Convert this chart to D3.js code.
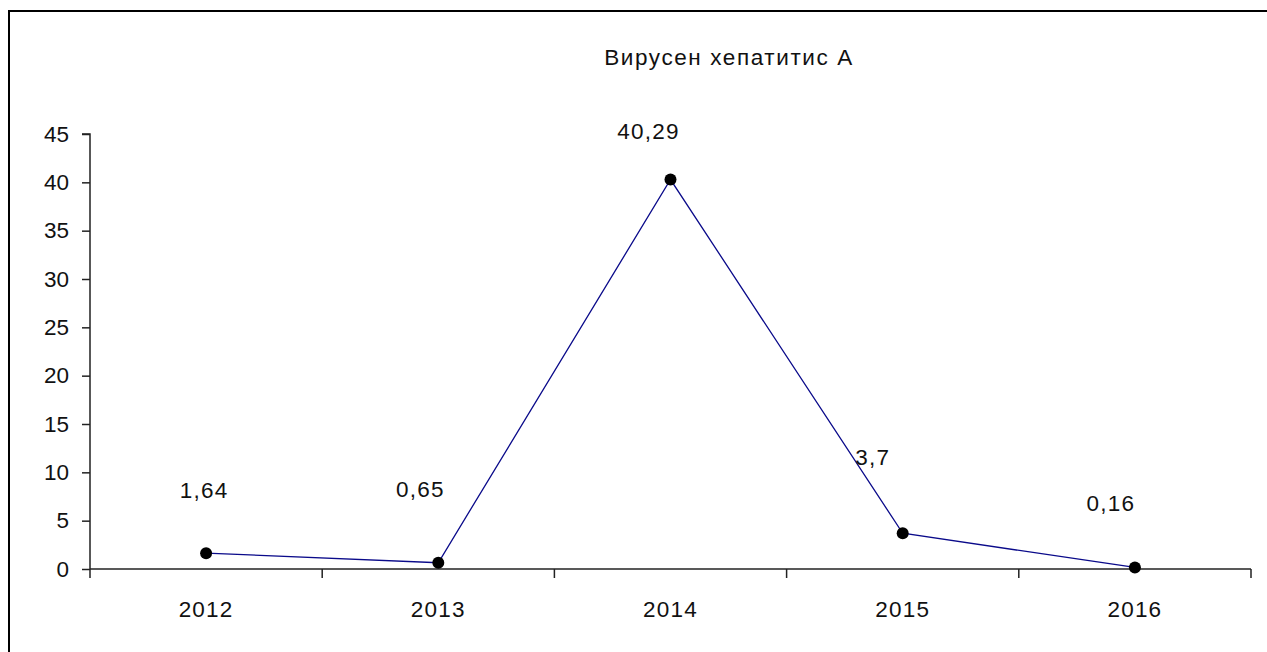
<!DOCTYPE html>
<html><head><meta charset="utf-8">
<script src="https://cdn.jsdelivr.net/npm/d3@7"></script>
<style>
html,body{margin:0;padding:0;background:#fff;}
svg{display:block;}
text{font-family:"Liberation Sans",Arial,sans-serif;fill:#111;}
</style></head>
<body>
<svg id="chart" width="1267" height="652"></svg>
<script>
const title = "Вирусен хепатитис А";
const categories = ["2012", "2013", "2014", "2015", "2016"];
const values = [1.64, 0.65, 40.29, 3.7, 0.16];
const valueLabels = ["1,64", "0,65", "40,29", "3,7", "0,16"];
const yTicks = [0, 5, 10, 15, 20, 25, 30, 35, 40, 45];

// manual label placement (layout only)
const labelDx = [-2, -18, -22, -30, -24];
const labelDy = [-63, -74, -48, -76, -64];

(function () {
const svg = d3.select("#chart");
const W = 1267, H = 652;
const pLeft = 90, pRight = 1251, pTop = 134, pBottom = 569;
const FS = 22.5;

// frame
svg.append("rect").attr("x", 9).attr("y", 11).attr("width", W + 20).attr("height", H + 20)
  .attr("fill", "#fff").attr("stroke", "#000").attr("stroke-width", 2);

const x = d3.scaleBand().domain(categories).range([pLeft, pRight]).padding(0);
const y = d3.scaleLinear().domain([0, 45]).range([pBottom, pTop]);

// title
svg.append("text").attr("x", 729).attr("y", 65).attr("text-anchor", "middle")
  .attr("font-size", FS).attr("letter-spacing", 1.6).text(title);

// y axis
const yAxis = d3.axisLeft(y).tickValues(yTicks).tickSize(8).tickPadding(13).tickFormat(d3.format("d"));
const gy = svg.append("g").attr("transform", `translate(${pLeft},0)`).call(yAxis);
gy.select(".domain").attr("stroke", "#222").attr("stroke-width", 1.5).attr("d", `M-8,${pTop}H0V${pBottom}`);
gy.selectAll(".tick line").attr("stroke", "#222").attr("stroke-width", 1.5);
gy.selectAll(".tick text").attr("font-size", FS).attr("font-family", "Liberation Sans, Arial, sans-serif").attr("fill", "#111");

// x axis with ticks at band boundaries
const gx = svg.append("g").attr("transform", `translate(0,${pBottom})`);
gx.append("line").attr("x1", pLeft).attr("x2", pRight).attr("y1", 0).attr("y2", 0)
  .attr("stroke", "#222").attr("stroke-width", 1.5);
const bounds = categories.map(c => x(c)).concat([x(categories[categories.length - 1]) + x.bandwidth()]);
gx.selectAll("line.tk").data(bounds).enter().append("line").attr("class", "tk")
  .attr("x1", d => d).attr("x2", d => d).attr("y1", 0).attr("y2", 9)
  .attr("stroke", "#222").attr("stroke-width", 1.5);
gx.selectAll("text").data(categories).enter().append("text")
  .attr("x", d => x(d) + x.bandwidth() / 2).attr("y", 48).attr("text-anchor", "middle")
  .attr("font-size", FS).attr("letter-spacing", 1.2).text(d => d);

const cx = (d, i) => x(categories[i]) + x.bandwidth() / 2;

// line
const line = d3.line().x((d, i) => cx(d, i)).y(d => y(d));
svg.append("path").datum(values).attr("d", line).attr("fill", "none")
  .attr("stroke", "#0a0a8a").attr("stroke-width", 1.3);

// markers
svg.selectAll("circle.pt").data(values).enter().append("circle").attr("class", "pt")
  .attr("cx", (d, i) => cx(d, i)).attr("cy", d => y(d)).attr("r", 6).attr("fill", "#000");

// data labels
svg.selectAll("text.lbl").data(values).enter().append("text").attr("class", "lbl")
  .attr("x", (d, i) => cx(d, i) + labelDx[i]).attr("y", (d, i) => y(d) + labelDy[i])
  .attr("dy", "0.35em").attr("text-anchor", "middle").attr("font-size", FS).attr("letter-spacing", 1.2)
  .text((d, i) => valueLabels[i]);
})();
</script>
</body></html>
